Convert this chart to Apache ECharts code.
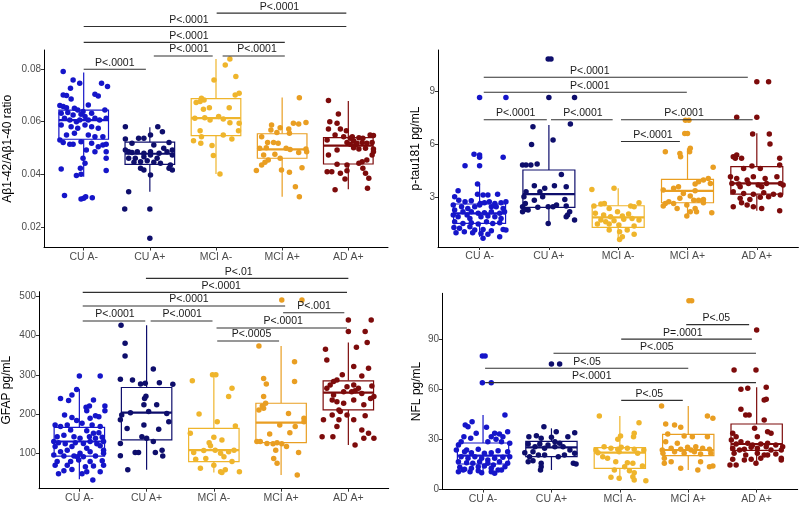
<!DOCTYPE html>
<html><head><meta charset="utf-8">
<script src="https://cdn.jsdelivr.net/npm/echarts@6/dist/echarts.min.js"></script>
<style>html,body{margin:0;padding:0;background:#fff}#c{width:800px;height:505px}</style>
</head><body><div id="c"></div>
<script>
const categories = ['CU A-', 'CU A+', 'MCI A-', 'MCI A+', 'AD A+'];
const groupColors = ['#1515c9', '#0e0e6c', '#efb52c', '#e99e22', '#7d0b0b'];

// ---------- Panel 1: Aβ1-42/Aβ1-40 ratio ----------
const abTicks = [0.02, 0.04, 0.06, 0.08];
// [min, q1, median, q3, max]
const abBox = [[0.0391,0.0533,0.0606,0.0644,0.0787],[0.0334,0.0438,0.0478,0.0522,0.0579],[0.0401,0.0547,0.0613,0.0687,0.0838],[0.0315,0.0461,0.0495,0.0554,0.0692],[0.0343,0.0439,0.0509,0.0539,0.0678]];
// [jitter, value]
const abCUneg = [[-0.31,0.0790],[-0.16,0.0758],[-0.06,0.0746],[0.27,0.0746],[0.36,0.0733],[-0.20,0.0727],[-0.31,0.0701],[-0.26,0.0699],[0.17,0.0704],[0.22,0.0697],[-0.19,0.0686],[-0.36,0.0661],[-0.31,0.0657],[-0.26,0.0653],[-0.14,0.0651],[0.07,0.0663],[-0.09,0.0644],[-0.01,0.0638],[-0.34,0.0632],[-0.24,0.0635],[-0.16,0.0625],[-0.04,0.0628],[0.12,0.0632],[0.32,0.0644],[0.02,0.0619],[-0.29,0.0613],[-0.21,0.0606],[-0.11,0.0600],[-0.06,0.0606],[0.07,0.0606],[0.17,0.0613],[0.24,0.0606],[0.34,0.0613],[-0.34,0.0587],[-0.19,0.0581],[0.02,0.0587],[0.12,0.0581],[-0.09,0.0575],[0.22,0.0575],[-0.26,0.0549],[-0.14,0.0556],[0.07,0.0549],[0.17,0.0543],[0.29,0.0543],[-0.36,0.0530],[-0.31,0.0521],[-0.21,0.0514],[-0.16,0.0514],[-0.04,0.0524],[0.12,0.0518],[0.22,0.0505],[0.29,0.0511],[0.34,0.0514],[0.04,0.0492],[0.17,0.0486],[0.34,0.0486],[-0.01,0.0461],[0.34,0.0461],[0.02,0.0442],[-0.34,0.0420],[-0.05,0.0423],[0.34,0.0414],[-0.11,0.0395],[-0.04,0.0400],[-0.29,0.0319],[-0.04,0.0306],[0.00,0.0309],[0.03,0.0315],[0.13,0.0311]];
const abCUpos = [[-0.37,0.0581],[0.12,0.0581],[0.19,0.0562],[0.01,0.0549],[-0.37,0.0534],[-0.17,0.0537],[-0.09,0.0537],[-0.27,0.0518],[0.06,0.0511],[0.29,0.0521],[-0.37,0.0492],[-0.32,0.0486],[-0.27,0.0483],[-0.19,0.0486],[-0.09,0.0480],[0.01,0.0486],[0.14,0.0480],[0.26,0.0486],[0.34,0.0492],[-0.32,0.0461],[-0.22,0.0461],[-0.09,0.0467],[0.01,0.0473],[0.11,0.0461],[0.34,0.0473],[-0.24,0.0446],[-0.14,0.0448],[-0.04,0.0451],[0.06,0.0446],[0.16,0.0442],[0.31,0.0435],[-0.14,0.0423],[-0.09,0.0416],[0.29,0.0423],[0.34,0.0416],[0.01,0.0397],[-0.32,0.0334],[-0.38,0.0268],[0.00,0.0268],[0.00,0.0157],[0.21,0.0499]];
const abMCIneg = [[0.21,0.0838],[0.14,0.0815],[0.30,0.0771],[-0.03,0.0758],[0.29,0.0701],[0.35,0.0708],[-0.22,0.0689],[-0.18,0.0682],[-0.24,0.0676],[-0.30,0.0673],[-0.19,0.0647],[-0.10,0.0653],[0.20,0.0653],[-0.32,0.0613],[-0.17,0.0615],[-0.09,0.0606],[0.04,0.0619],[0.11,0.0610],[0.21,0.0596],[0.35,0.0594],[-0.24,0.0565],[0.34,0.0565],[-0.22,0.0543],[0.11,0.0549],[0.24,0.0534],[-0.34,0.0527],[-0.23,0.0518],[-0.06,0.0509],[-0.04,0.0471],[0.06,0.0401]];
const abMCIpos = [[0.26,0.0691],[-0.16,0.0587],[0.17,0.0594],[0.25,0.0591],[0.36,0.0597],[-0.03,0.0577],[-0.17,0.0568],[0.10,0.0572],[0.11,0.0556],[-0.08,0.0559],[-0.31,0.0543],[-0.22,0.0521],[-0.13,0.0521],[-0.06,0.0518],[-0.34,0.0499],[-0.24,0.0501],[0.06,0.0499],[0.12,0.0494],[0.36,0.0496],[0.37,0.0486],[0.25,0.0483],[-0.28,0.0473],[-0.11,0.0476],[-0.03,0.0461],[-0.21,0.0454],[-0.26,0.0446],[-0.31,0.0435],[-0.39,0.0414],[-0.01,0.0416],[0.11,0.0408],[0.30,0.0425],[0.20,0.0353],[0.26,0.0315]];
const abADpos = [[-0.30,0.0680],[-0.15,0.0629],[-0.28,0.0600],[-0.17,0.0594],[-0.30,0.0572],[-0.12,0.0572],[-0.03,0.0565],[-0.20,0.0549],[-0.07,0.0543],[0.03,0.0537],[0.06,0.0543],[0.08,0.0527],[0.16,0.0539],[0.22,0.0537],[0.33,0.0549],[0.38,0.0547],[-0.32,0.0530],[-0.02,0.0521],[0.03,0.0514],[0.11,0.0511],[0.13,0.0518],[0.21,0.0521],[0.28,0.0518],[0.36,0.0521],[0.08,0.0501],[0.16,0.0496],[0.26,0.0499],[0.38,0.0496],[0.38,0.0486],[-0.17,0.0492],[-0.30,0.0473],[0.36,0.0473],[0.28,0.0454],[0.21,0.0448],[0.16,0.0442],[-0.17,0.0438],[-0.02,0.0435],[-0.32,0.0410],[-0.25,0.0410],[-0.12,0.0404],[-0.02,0.0413],[0.22,0.0423],[0.26,0.0404],[-0.05,0.0382],[0.31,0.0385],[-0.20,0.0341],[0.29,0.0347]];
// [from, to, level, label position]
const abSig = [[0,0.94,0.0799,0.47],[1.06,1.95,0.0849,1.59],[2.10,3.04,0.0849,2.62],[0,3.04,0.0901,1.59],[0,3.97,0.0961,1.59],[2.01,3.97,0.1012,2.96]];
const abSigText = ['P<.0001','P<.0001','P<.0001','P<.0001','P<.0001','P<.0001'];

// ---------- Panel 2: p-tau181 ----------
const ptTicks = [3, 6, 9];
const ptBox = [[0.73,1.49,2.06,2.59,3.72],[1.49,2.40,3.15,4.52,7.07],[0.58,1.26,1.83,2.49,3.48],[1.85,2.66,3.34,3.99,5.75],[2.21,3.15,3.76,4.71,6.60]];
const ptCUneg = [[0,8.64],[0.38,8.64],[-0.08,5.42],[0,5.37],[0,5.24],[0.34,5.24],[-0.21,4.76],[0,4.76],[-0.03,3.72],[-0.31,3.34],[-0.03,3.15],[0.05,3.10],[0.12,3.10],[0.26,3.15],[-0.36,3.00],[-0.30,2.81],[-0.21,2.72],[-0.12,2.78],[0.01,2.62],[0.07,2.66],[0.14,2.72],[0.22,2.62],[0.31,2.66],[0.38,2.72],[-0.38,2.53],[-0.26,2.44],[-0.17,2.34],[-0.07,2.44],[0,2.53],[0.17,2.44],[0.24,2.44],[0.34,2.34],[-0.36,2.25],[-0.24,2.15],[-0.12,2.15],[-0.02,2.06],[0.07,2.09],[0.17,2.15],[0.29,2.06],[0.36,2.15],[-0.38,1.96],[-0.31,1.87],[-0.18,1.96],[-0.14,1.77],[0.02,1.87],[0.12,1.91],[0.22,1.87],[0.31,1.77],[-0.36,1.58],[-0.24,1.49],[-0.12,1.53],[-0.02,1.45],[0.10,1.58],[0.19,1.49],[0.29,1.53],[-0.37,1.26],[-0.29,1.21],[-0.14,1.30],[-0.07,1.11],[0.05,1.15],[0.17,1.07],[0.34,1.15],[-0.34,0.96],[-0.10,0.96],[0.02,0.92],[0.12,0.88],[0.38,1.11],[0.29,0.73],[0.05,0.64],[-0.22,1.02]];
const ptCUpos = [[-0.01,10.82],[0.03,10.82],[0,8.64],[0.37,8.64],[-0.23,6.98],[0.31,7.13],[0.06,6.22],[-0.25,5.97],[-0.38,4.80],[-0.33,4.80],[-0.26,4.80],[-0.17,4.86],[0.18,4.27],[-0.21,3.63],[0.08,3.63],[-0.06,3.48],[0.25,3.57],[-0.33,3.29],[-0.13,3.29],[-0.36,3.00],[-0.09,3.00],[-0.21,2.81],[0.23,2.85],[-0.34,2.62],[0.11,2.53],[0.25,2.47],[-0.38,2.44],[-0.38,2.15],[-0.30,2.25],[-0.16,2.40],[-0.01,2.44],[0.06,2.44],[-0.35,2.28],[0.30,2.15],[0.27,1.96],[0.25,1.87],[0.37,1.68],[-0.01,1.49]];
const ptMCIneg = [[-0.38,3.42],[-0.06,3.48],[-0.25,2.59],[-0.20,2.62],[-0.35,2.47],[-0.13,2.34],[0.18,2.47],[0.30,2.66],[0.23,2.44],[-0.01,2.15],[-0.33,2.06],[-0.21,1.96],[-0.11,1.87],[0.06,1.91],[0.15,2.02],[-0.25,1.68],[-0.18,1.58],[-0.06,1.64],[0.08,1.72],[0.20,1.77],[0.30,1.68],[-0.30,1.45],[-0.13,1.45],[0.01,1.40],[0.23,1.34],[0.13,1.11],[-0.13,1.11],[0.02,1.02],[0.23,0.88],[0.06,0.73],[0.02,0.58]];
const ptMCIpos = [[-0.03,7.35],[0.02,7.35],[-0.04,6.59],[0,6.59],[-0.11,5.46],[0.04,5.75],[0.03,5.56],[-0.10,5.27],[-0.32,5.56],[0.37,4.67],[0.30,4.04],[0.23,3.95],[0.16,3.85],[0.11,3.72],[0.33,3.76],[-0.13,3.57],[-0.20,3.48],[-0.35,3.38],[0.11,3.34],[-0.06,3.19],[0.04,3.04],[-0.11,2.91],[0.09,2.81],[0.16,2.81],[0.23,2.85],[-0.27,2.72],[-0.20,2.62],[-0.32,2.62],[-0.35,2.47],[-0.01,2.53],[-0.15,2.34],[0.11,2.34],[0.13,2.15],[0.04,2.15],[0.35,2.09],[-0.01,1.91],[0.23,2.66]];
const ptADpos = [[0,9.53],[0.17,9.53],[-0.29,7.51],[0,7.51],[-0.06,6.56],[0.18,6.56],[0.19,5.99],[-0.34,5.27],[-0.29,5.37],[-0.31,5.18],[-0.22,5.18],[0.33,5.18],[0.33,4.80],[-0.19,4.61],[-0.07,4.74],[0.05,4.61],[-0.38,4.14],[-0.29,4.04],[-0.14,3.95],[-0.05,4.14],[0.12,4.04],[0.29,4.14],[-0.36,3.76],[-0.26,3.72],[-0.12,3.76],[0.02,3.67],[0.14,3.76],[0.34,3.76],[0.38,3.67],[-0.24,3.57],[0.07,3.57],[-0.34,3.29],[-0.19,3.19],[-0.05,3.15],[0.10,3.23],[0.24,3.15],[0.34,3.10],[-0.24,2.91],[-0.10,2.85],[0.05,2.97],[0.17,3.00],[-0.22,2.66],[-0.34,2.44],[-0.14,2.53],[-0.05,2.44],[0.07,2.34],[0.33,2.21]];
const ptSig = [[0.06,3.87,9.78,1.59],[0.06,2.99,8.93,1.59],[0.06,0.97,7.37,0.52],[1.03,1.92,7.37,1.49],[2.04,3.94,7.37,2.95],[2.04,2.89,6.14,2.50]];
const ptSigText = ['P<.0001','P<.0001','P<.0001','P<.0001','P<.0001','P<.0001'];

// ---------- Panel 3: GFAP ----------
const gfTicks = [100, 200, 300, 400, 500];
const gfBox = [[35,94,131,167,264],[59,135,204,268,426],[52,80,109,164,300],[46,128,179,228,373],[122,211,255,285,382]];
const gfCUneg = [[0,297],[0.31,297],[-0.04,263],[-0.11,249],[-0.28,240],[-0.16,235],[0.21,236],[0.10,218],[0.15,221],[0.11,209],[0.38,221],[0.38,209],[-0.22,198],[-0.11,192],[-0.04,184],[0.16,190],[0.24,196],[0.29,194],[-0.36,173],[-0.28,169],[-0.18,173],[0.04,177],[0.19,173],[0.31,169],[-0.13,160],[0.11,158],[0.21,152],[0.29,153],[-0.23,147],[-0.33,143],[-0.08,143],[0.01,139],[0.15,143],[0.24,139],[0.34,142],[-0.38,131],[-0.31,128],[-0.21,125],[-0.06,128],[0.06,126],[0.16,131],[0.26,125],[0.36,131],[-0.36,118],[-0.11,118],[0.11,114],[0.31,120],[-0.28,105],[-0.18,109],[0.01,101],[0.16,105],[0.36,109],[0.36,101],[-0.38,97],[-0.23,94],[-0.08,94],[-0.03,92],[0.06,92],[0.24,94],[-0.33,80],[-0.13,80],[-0.01,84],[0.16,80],[0.34,82],[-0.36,71],[-0.18,71],[0.09,67],[0.21,69],[0.36,71],[-0.23,57],[-0.11,60],[0.11,54],[0.31,54],[-0.31,49],[0.04,49],[0.20,33]];
const gfCUpos = [[-0.38,426],[-0.32,380],[-0.32,348],[0.10,315],[-0.39,289],[-0.21,287],[-0.09,277],[-0.02,279],[0.19,280],[0.39,276],[-0.03,240],[-0.01,246],[-0.04,224],[0.15,224],[-0.37,198],[-0.24,204],[0.03,207],[0.30,202],[-0.39,186],[0.33,181],[-0.29,164],[-0.04,173],[0.18,162],[-0.07,143],[0,139],[0.10,131],[-0.39,126],[-0.17,103],[-0.12,103],[0.13,103],[0.23,109],[0.24,94],[-0.39,95],[-0.28,59]];
const gfMCIneg = [[-0.02,300],[0.03,300],[-0.32,285],[0.27,266],[0.22,245],[-0.22,201],[0.05,181],[0.32,170],[-0.35,152],[0,142],[0.12,135],[-0.07,128],[-0.05,120],[-0.30,103],[-0.15,108],[0.02,109],[0.10,101],[0.22,105],[0.30,109],[0.15,92],[-0.12,88],[-0.27,86],[0.27,80],[0,71],[-0.20,63],[0.17,59],[0.10,54],[0.12,52],[0.38,54]];
const gfMCIpos = [[0.01,490],[0.31,490],[-0.33,373],[0.20,333],[0.20,283],[-0.26,291],[-0.22,277],[-0.26,245],[-0.28,221],[-0.26,215],[-0.33,211],[-0.23,228],[0.11,202],[0.34,190],[0.34,181],[-0.02,173],[0.21,169],[-0.17,150],[0.13,153],[-0.36,131],[-0.31,131],[-0.21,126],[-0.12,125],[-0.06,128],[0.01,125],[0.08,118],[-0.08,109],[0.26,103],[-0.11,88],[-0.06,76],[0.24,46]];
const gfADpos = [[0,439],[0.34,439],[0,410],[0.25,410],[0.28,382],[-0.34,365],[0.12,370],[-0.32,338],[0.08,321],[0.30,317],[-0.09,300],[0.20,297],[-0.17,287],[-0.22,283],[-0.27,274],[-0.32,266],[-0.02,270],[0.08,274],[0.15,266],[0.35,272],[-0.22,249],[-0.07,257],[0.05,257],[0.10,260],[0.20,253],[0.33,240],[0.38,245],[-0.24,236],[-0.17,232],[-0.07,228],[0.08,236],[0.23,224],[-0.12,207],[-0.14,211],[-0.24,198],[-0.02,198],[-0.37,186],[-0.14,186],[0.08,186],[0.25,196],[-0.17,169],[0.20,160],[-0.39,143],[-0.23,143],[0.23,139],[0.38,139],[0.30,152],[0.10,122]];
const gfSig = [[0.99,4.0,544.9,2.37],[0.05,3.98,509.4,2.11],[0.05,3.06,474.6,1.63],[3.03,3.94,457.6,3.49],[0.05,0.98,436.6,0.53],[1.06,1.98,436.6,1.53],[2.04,3.98,418.8,3.03],[2.05,2.97,385.9,2.56]];
const gfSigText = ['P<.01','P<.0001','P<.0001','P<.001','P<.0001','P<.0001','P<.0001','P<.0005'];

// ---------- Panel 4: NFL ----------
const nfTicks = [0, 30, 60, 90];
const nfBox = [[9.4,15,20,27.6,44.4],[11.4,19.4,25,28.6,36.4],[5,12.4,21.8,24.8,43.8],[11.4,20,23.4,32.8,49.8],[14.4,23.2,27,39,61]];
const nfCUneg = [[-0.01,79.8],[0.03,79.8],[-0.01,63.8],[0.12,63.8],[0.32,44.4],[-0.16,40.4],[-0.26,38.4],[-0.22,37.4],[0.05,37.0],[-0.10,33.4],[0.17,33.4],[0.24,33.0],[0.29,31.4],[0.36,34.4],[-0.28,31.4],[-0.18,30.4],[0.12,31.4],[0.19,29.8],[0.07,28.4],[0.27,28.4],[0.39,27.4],[-0.32,28.4],[-0.36,26.4],[-0.39,23.4],[-0.24,23.4],[-0.27,22.4],[-0.17,21.8],[-0.07,23.8],[0.02,21.4],[0.12,21.8],[0.22,23.0],[0.36,22.4],[-0.32,19.4],[-0.22,18.4],[-0.12,19.4],[-0.02,18.4],[0.07,17.4],[0.17,18.4],[0.29,19.0],[0.39,19.4],[-0.36,16.4],[-0.24,15.8],[-0.15,15.4],[-0.05,16.4],[0.07,15.4],[0.15,14.4],[0.24,16.4],[0.36,15.4],[-0.34,13.0],[-0.27,11.8],[-0.17,12.4],[-0.07,13.4],[0.02,13.8],[0.12,12.4],[0.22,11.4],[0.32,13.4],[-0.36,10.4],[-0.29,11.4],[-0.19,10.4],[-0.07,11.0],[-0.02,9.8],[0.12,10.4],[0.17,9.4],[0.27,11.4]];
const nfCUpos = [[0,75.0],[0.12,75.0],[-0.11,37.4],[0.07,34.4],[0.34,33.8],[-0.22,32.0],[-0.33,31.4],[-0.15,30.4],[0,31.0],[0.24,31.4],[0.05,28.4],[0.12,27.4],[-0.34,27.0],[-0.17,27.0],[-0.05,26.4],[-0.24,25.4],[-0.10,24.4],[0.05,25.4],[0.17,25.4],[0.27,23.4],[-0.39,21.8],[-0.27,22.4],[-0.19,20.4],[-0.10,20.4],[0.10,19.4],[0.19,20.4],[0.34,21.4],[-0.32,19.4],[-0.34,16.4],[-0.27,17.0],[-0.15,15.4],[0.32,15.4],[0.36,15.0],[-0.15,13.4],[-0.16,11.4]];
const nfMCIneg = [[-0.30,43.8],[0.28,39.8],[0.21,33.4],[0.20,31.4],[0.01,31.8],[-0.03,29.8],[-0.23,25.4],[0.11,24.4],[-0.35,23.4],[-0.13,24.4],[-0.03,23.8],[0.02,25.0],[0.21,23.8],[0.35,23.4],[-0.32,21.8],[-0.01,22.4],[0.26,21.4],[-0.25,19.4],[-0.18,18.4],[-0.06,16.4],[0.11,15.8],[0.19,15.4],[0.07,13.4],[0.33,13.8],[-0.08,11.4],[0.14,11.0],[0.21,9.8],[0.19,7.4],[-0.13,7.0],[-0.01,6.4],[0.21,5.4],[0.38,5.0]];
const nfMCIpos = [[0.01,113],[0.05,113],[-0.39,49.8],[0.28,43.8],[0.36,42.4],[-0.33,39.0],[-0.20,38.4],[-0.11,37.0],[-0.30,33.0],[-0.06,31.8],[0.06,31.4],[0.28,31.4],[-0.33,28.4],[-0.16,27.4],[-0.38,23.4],[-0.25,24.4],[-0.11,23.8],[-0.01,25.0],[0.04,23.4],[0.11,25.4],[0.21,24.4],[0.31,23.8],[-0.37,21.4],[-0.20,22.4],[-0.06,21.4],[0.09,22.4],[0.18,21.0],[0.33,21.4],[-0.35,18.4],[-0.25,16.4],[-0.35,15.4],[0.18,16.4],[0.36,13.8],[0.31,13.4],[-0.11,12.4],[0.14,11.4]];
const nfADpos = [[0,95.4],[-0.33,71.4],[-0.01,71.4],[0.14,61.0],[-0.23,59.8],[-0.13,60.4],[0.11,53.4],[0.14,53.8],[-0.23,47.8],[-0.16,44.4],[-0.11,44.4],[0.11,41.4],[-0.03,36.4],[0.16,34.4],[0.21,33.4],[-0.35,33.4],[-0.30,31.4],[0.01,31.4],[-0.37,29.4],[-0.23,28.4],[-0.30,27.0],[-0.13,27.4],[-0.06,26.4],[0.06,27.0],[0.16,27.4],[0.28,26.4],[0.38,25.4],[-0.35,24.4],[-0.25,23.4],[-0.18,23.8],[-0.08,25.0],[0.01,24.4],[0.14,25.4],[0.21,23.4],[0.36,23.4],[-0.33,21.4],[-0.16,20.4],[0.01,21.4],[0.11,20.4],[0.28,21.0],[0.36,18.4],[-0.35,17.8],[-0.18,17.4],[-0.08,17.8],[0.06,18.4],[0.16,20.4],[0.36,17.4],[-0.39,14.4],[-0.30,14.4],[-0.01,15.4]];
const nfSig = [[2.97,3.89,98.6,3.41],[2.02,3.93,89.9,2.92],[1.03,3.99,81.4,2.54],[0.03,3.0,72.4,1.52],[0.03,3.99,63.8,1.59],[2.02,2.92,53.2,2.43]];
const nfSigText = ['P<.05','P=.0001','P<.005','P<.05','P<.0001','P<.05'];

// ---------- build ----------
const FONT = '"Liberation Sans", Arial, Helvetica, sans-serif';
const panels = [
  {grid:{left:44, top:50, width:344, height:197.5}, yMin:0.0122, yMax:0.0872, ticks:abTicks, name:'Aβ1-42/Aβ1-40 ratio', gap:30,
   box:abBox, groups:[abCUneg, abCUpos, abMCIneg, abMCIpos, abADpos], sig:abSig, sigText:abSigText},
  {grid:{left:438, top:50, width:360.4, height:197}, yMin:0.15, yMax:11.33, ticks:ptTicks, name:'p-tau181 pg/mL', gap:16,
   box:ptBox, groups:[ptCUneg, ptCUpos, ptMCIneg, ptMCIpos, ptADpos], sig:ptSig, sigText:ptSigText},
  {grid:{left:39, top:291.7, width:349.7, height:197}, yMin:11.2, yMax:511, ticks:gfTicks, name:'GFAP pg/mL', gap:26,
   box:gfBox, groups:[gfCUneg, gfCUpos, gfMCIneg, gfMCIpos, gfADpos], sig:gfSig, sigText:gfSigText},
  {grid:{left:442, top:293.3, width:355.7, height:196.3}, yMin:-0.35, yMax:117.4, ticks:nfTicks, name:'NFL pg/mL', gap:19,
   box:nfBox, groups:[nfCUneg, nfCUpos, nfMCIneg, nfMCIpos, nfADpos], sig:nfSig, sigText:nfSigText}
];

const grid = [], xAxis = [], yAxis = [], series = [];
const catIdx = [0, 1, 2, 3, 4];
panels.forEach((p, k) => {
  grid.push(p.grid);
  xAxis.push({gridIndex:k, type:'value', min:-0.6, max:4.6,
    axisLine:{onZero:false, lineStyle:{color:'#000', width:1}},
    axisTick:{customValues:catIdx, length:3, lineStyle:{color:'#333'}},
    axisLabel:{customValues:catIdx, formatter:v => categories[Math.round(v)], color:'#4d4d4d', fontSize:10.5, fontFamily:FONT, margin:4},
    splitLine:{show:false}});
  yAxis.push({gridIndex:k, type:'value', min:p.yMin, max:p.yMax,
    name:p.name, nameLocation:'middle', nameGap:p.gap, nameRotate:90,
    nameTextStyle:{color:'#000', fontSize:12, fontFamily:FONT},
    axisLine:{show:true, onZero:false, lineStyle:{color:'#000', width:1}},
    axisTick:{show:true, customValues:p.ticks, length:3, lineStyle:{color:'#333'}},
    axisLabel:{customValues:p.ticks, formatter:v => String(v), color:'#4d4d4d', fontSize:10, fontFamily:FONT, margin:3},
    splitLine:{show:false}});
  // boxes
  series.push({type:'custom', xAxisIndex:k, yAxisIndex:k, z:2, clip:false,
    data:p.box.map((b, i) => [i].concat(b)),
    encode:{x:0, y:[1,2,3,4,5]},
    renderItem:(params, api) => {
      const i = api.value(0);
      const col = groupColors[i];
      const pMin = api.coord([i, api.value(1)]), pQ1 = api.coord([i, api.value(2)]),
            pMed = api.coord([i, api.value(3)]), pQ3 = api.coord([i, api.value(4)]), pMax = api.coord([i, api.value(5)]);
      const hw = api.size([0.375, 0])[0];
      const cx = pMed[0];
      const st = {stroke:col, lineWidth:1.2, fill:null};
      return {type:'group', children:[
        {type:'line', shape:{x1:cx, y1:pMax[1], x2:cx, y2:pQ3[1]}, style:st},
        {type:'line', shape:{x1:cx, y1:pQ1[1], x2:cx, y2:pMin[1]}, style:st},
        {type:'rect', shape:{x:cx-hw, y:pQ3[1], width:2*hw, height:pQ1[1]-pQ3[1]}, style:{stroke:col, lineWidth:1.2, fill:'#fff'}},
        {type:'line', shape:{x1:cx-hw, y1:pMed[1], x2:cx+hw, y2:pMed[1]}, style:{stroke:col, lineWidth:2.2}}
      ]};
    }});
  // jittered points
  p.groups.forEach((g, i) => {
    series.push({type:'scatter', xAxisIndex:k, yAxisIndex:k, z:3, symbol:'circle', symbolSize:5.5,
      itemStyle:{color:groupColors[i], opacity:1}, silent:true,
      data:g.map(d => [i + d[0], d[1]])});
  });
  // significance brackets
  const texts = p.sigText;
  series.push({type:'custom', xAxisIndex:k, yAxisIndex:k, z:4, clip:false, silent:true,
    data:p.sig, encode:{x:[0,1,3], y:2},
    renderItem:(params, api) => {
      const a = api.coord([api.value(0), api.value(2)]);
      const b = api.coord([api.value(1), api.value(2)]);
      const t = api.coord([api.value(3), api.value(2)]);
      return {type:'group', children:[
        {type:'line', shape:{x1:a[0], y1:a[1], x2:b[0], y2:b[1]}, style:{stroke:'#303030', lineWidth:1.1}},
        {type:'text', x:t[0], y:a[1]-1, style:{text:texts[params.dataIndex], fill:'#1a1a1a', fontSize:10.5, fontFamily:FONT, align:'center', verticalAlign:'bottom'}}
      ]};
    }});
});

const chart = echarts.init(document.getElementById('c'), null, {renderer:'canvas'});
chart.setOption({animation:false, backgroundColor:'#fff', grid, xAxis, yAxis, series});
</script>
</body></html>
